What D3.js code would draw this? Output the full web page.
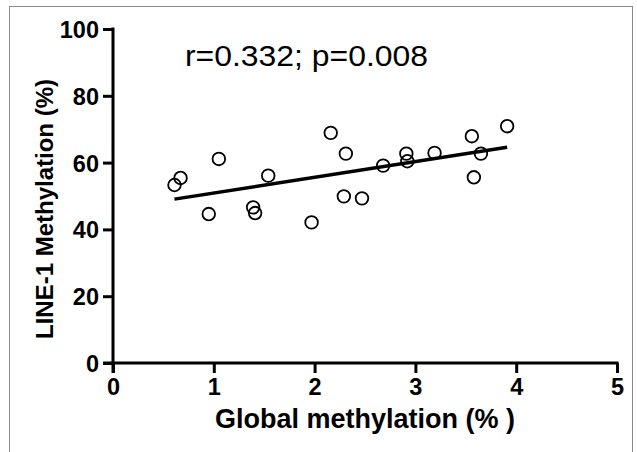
<!DOCTYPE html>
<html>
<head>
<meta charset="utf-8">
<script src="https://cdn.jsdelivr.net/npm/d3@7"></script>
<style>
  body { margin: 0; background: #fff; }
  text { font-family: "Liberation Sans", Arial, sans-serif; }
</style>
</head>
<body>
<div id="chart"></div>
<script>
// global methylation (%) vs LINE-1 methylation (%)
var globalMeth = [0.61, 0.67, 1.05, 0.95, 1.39, 1.41, 1.54, 1.97, 2.16, 2.31, 2.29,
  2.47, 2.68, 2.91, 2.92, 3.19, 3.56, 3.65, 3.58, 3.91]
var line1Meth = [53.3, 55.4, 61.1, 44.6, 46.6, 44.9, 56.1, 42.1, 68.9, 62.7, 49.9,
  49.3, 59.1, 62.7, 60.4, 62.9, 67.9, 62.7, 55.6, 70.9]

// fitted line
var fitIntercept = 46.2
var fitSlope = 4.7

var xTicks = [0, 1, 2, 3, 4, 5]
var yTicks = [0, 20, 40, 60, 80, 100]
var statsLabel = 'r=0.332; p=0.008'

var width = 637
var height = 452

var svg = d3
  .select('#chart')
  .append('svg')
  .attr('width', width)
  .attr('height', height)

// thin frame round the figure
svg
  .append('rect')
  .attr('x', 9.5)
  .attr('y', 6.5)
  .attr('width', 623)
  .attr('height', 460)
  .attr('fill', 'none')
  .attr('stroke', '#8a8a8a')
  .attr('stroke-width', 1)

var xScale = d3.scaleLinear().domain([0, 5]).range([113, 617])
var yScale = d3.scaleLinear().domain([0, 100]).range([363, 29])

var tickLen = 10

// x axis
var xAxis = svg
  .append('g')
  .attr('transform', 'translate(0,' + yScale(0) + ')')
  .call(
    d3
      .axisBottom(xScale)
      .tickValues(xTicks)
      .tickSize(tickLen)
      .tickPadding(5)
      .tickFormat(d3.format('d'))
  )
xAxis.select('.domain').remove()
xAxis
  .append('line')
  .attr('x1', xScale(0) - tickLen)
  .attr('x2', xScale(5) + 1.5)
  .attr('stroke', '#000')
  .attr('stroke-width', 3)

// y axis
var yAxis = svg
  .append('g')
  .attr('transform', 'translate(' + xScale(0) + ',0)')
  .call(
    d3
      .axisLeft(yScale)
      .tickValues(yTicks)
      .tickSize(tickLen)
      .tickPadding(4)
      .tickFormat(d3.format('d'))
  )
yAxis.select('.domain').remove()
yAxis
  .append('line')
  .attr('y1', yScale(100) - 1.5)
  .attr('y2', yScale(0) + tickLen)
  .attr('stroke', '#000')
  .attr('stroke-width', 3)

svg.selectAll('.tick line').attr('stroke', '#000').attr('stroke-width', 3)
svg
  .selectAll('.tick text')
  .attr('fill', '#000')
  .attr('font-size', 23.5)
  .attr('font-weight', 'bold')
  .attr('font-family', '"Liberation Sans", Arial, sans-serif')
yAxis.selectAll('.tick text').attr('dy', '0.36em')

// regression line over the data range
var xExtent = d3.extent(globalMeth)
svg
  .append('line')
  .attr('x1', xScale(xExtent[0]))
  .attr('y1', yScale(fitIntercept + fitSlope * xExtent[0]))
  .attr('x2', xScale(xExtent[1]))
  .attr('y2', yScale(fitIntercept + fitSlope * xExtent[1]))
  .attr('stroke', '#000')
  .attr('stroke-width', 3.5)

// points
svg
  .selectAll('.dot')
  .data(globalMeth)
  .enter()
  .append('circle')
  .attr('class', 'dot')
  .attr('cx', d => xScale(d))
  .attr('cy', (d, i) => yScale(line1Meth[i]))
  .attr('r', 6.3)
  .attr('fill', 'none')
  .attr('stroke', '#000')
  .attr('stroke-width', 1.8)

// stats text
svg
  .append('text')
  .attr('x', 185)
  .attr('y', 66)
  .attr('font-size', 29)
  .attr('textLength', 243)
  .attr('lengthAdjust', 'spacingAndGlyphs')
  .text(statsLabel)

// axis titles
svg
  .append('text')
  .attr('x', 365)
  .attr('y', 428)
  .attr('text-anchor', 'middle')
  .attr('font-size', 27)
  .attr('font-weight', 'bold')
  .text('Global methylation (% )')

svg
  .append('text')
  .attr('transform', 'translate(53,209) rotate(-90)')
  .attr('text-anchor', 'middle')
  .attr('font-size', 24)
  .attr('font-weight', 'bold')
  .text('LINE-1 Methylation (%)')
</script>
</body>
</html>
